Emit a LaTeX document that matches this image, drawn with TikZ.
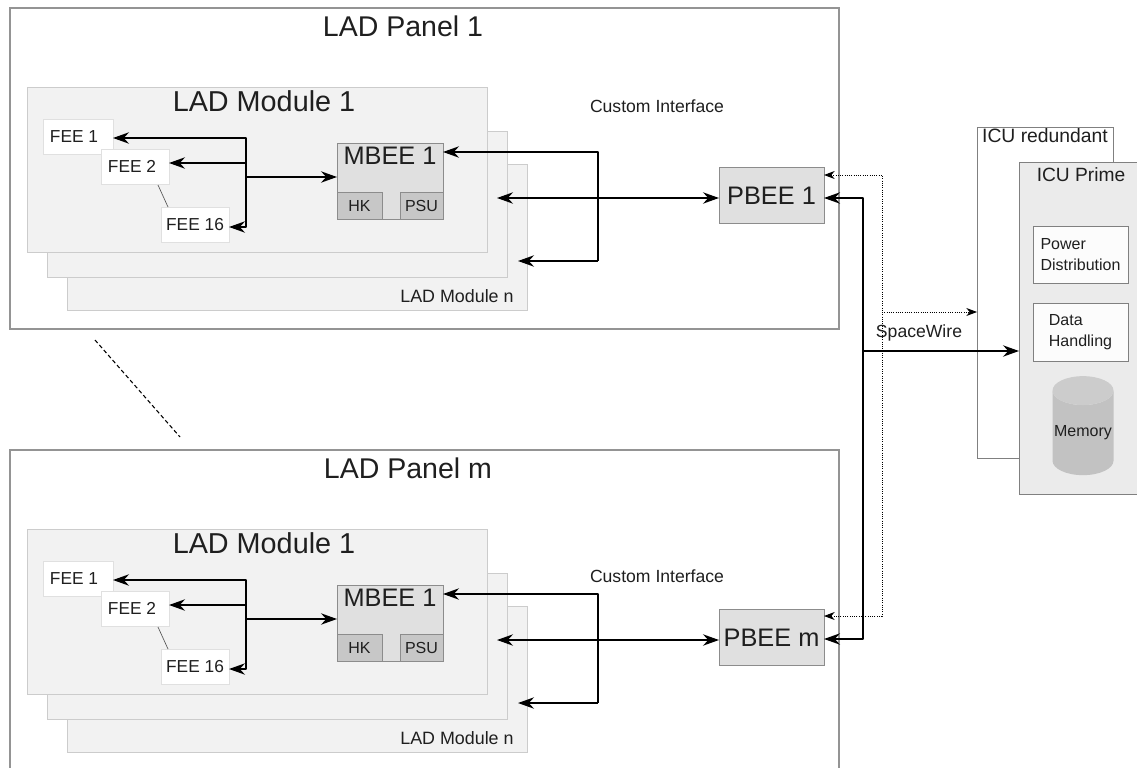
\documentclass[tikz,border=0pt]{standalone}
\usepackage{fontspec}
\setmainfont{Liberation Sans}
\usetikzlibrary{arrows.meta,shapes.geometric}
\newcommand{\fs}[1]{\fontsize{#1}{20}\selectfont}
\tikzset{
  x=0.75pt,y=-0.75pt,
  sized/.style 2 args={minimum width=#1*0.75pt,minimum height=#2*0.75pt,anchor=north west,inner sep=0pt,outer sep=0pt},
  lbl/.style={inner sep=0pt,outer sep=0pt,text=black!88},
  panelbox/.style={draw=black!42,line width=1.5pt,fill=white},
  modulebox/.style={draw=black!20,line width=0.6pt,fill=black!5},
  feebox/.style={draw=black!12,line width=0.6pt,fill=white,font=\fs{13},text=black!88},
  beebox/.style={draw=black!45,line width=0.7pt,fill=black!12},
  subbox/.style={draw=black!45,line width=0.7pt,fill=black!22,font=\fs{12},text=black!88},
  conn/.style={draw=black,line width=1.5pt,line join=round,{Stealth[length=12pt,width=8.5pt,inset=4pt]}-},
  connboth/.style={draw=black,line width=1.5pt,line join=round,{Stealth[length=12pt,width=8.5pt,inset=4pt]}-{Stealth[length=12pt,width=8.5pt,inset=4pt]}},
  dotline/.style={draw=black,line width=0.7pt,densely dotted},
  dotboth/.style={dotline,{Stealth[length=8pt,width=6pt,inset=2.5pt]}-{Stealth[length=8pt,width=6pt,inset=2.5pt]}},
  dotend/.style={dotline,-{Stealth[length=8pt,width=6pt,inset=2.5pt]}},
  thinline/.style={draw=black!65,line width=0.5pt},
  whitebox/.style={draw=black!50,line width=0.7pt,fill=black!1},
}
\newcommand{\ladpanel}[5]{%
\begin{scope}[shift={(0,#1)},name prefix=#2-]
  \node[panelbox,sized={829}{321}] (panel) at (10,8) {};
  \node[lbl,font=\fs{21.4}] (paneltitle) at (#4,26) {LAD Panel #3};
  \node[modulebox,sized={460}{146}] (modn) at (67,164) {};
  \node[modulebox,sized={460}{146}] (mod2) at (47,131) {};
  \node[modulebox,sized={460}{165}] (mod1) at (27,87) {};
  \node[lbl,font=\fs{21.6}] (modtitle) at (264,101) {LAD Module 1};
  \node[lbl,font=\fs{13.4}] (modnlabel) at (457,296) {LAD Module n};
  \node[feebox,sized={70}{35}] (fee1) at (43,119) {FEE 1\kern6pt\relax};
  \node[feebox,sized={68}{35}] (fee2) at (101,149) {FEE 2\kern4.5pt\relax};
  \node[feebox,sized={68}{35}] (fee16) at (161,207) {FEE 16};
  \coordinate (gapA) at (158,185);
  \coordinate (gapB) at (168,207);
  \draw[thinline] (gapA) -- (gapB);
  \node[beebox,sized={106}{76}] (mbee) at (337,143) {};
  \node[lbl,font=\fs{19}] (mbeetitle) at (390,156) {MBEE 1};
  \node[subbox,sized={45}{27}] (hk) at (337,192) {HK};
  \node[subbox,sized={43}{27}] (psu) at (400,192) {PSU};
  \node[beebox,sized={105}{56}] (pbee) at (719,167) {};
  \node[lbl,font=\fs{19}] (pbeetitle) at (771.5,196) {PBEE #3};
  \node[lbl,font=\fs{13.2}] (custom) at (657,#5) {Custom Interface};
  \coordinate (busT) at (246,138);
  \coordinate (busF2) at (246,163);
  \coordinate (busM) at (246,177);
  \coordinate (busB) at (246,227);
  \draw[connboth] (fee1.east |- busT) -- (busT) -- (busB) -- (fee16.east |- busB);
  \draw[conn] (fee2.east |- busF2) -- (busF2);
  \draw[conn] (mbee.west |- busM) -- (busM);
  \coordinate (ciT) at (598,152);
  \coordinate (ciM) at (598,198);
  \coordinate (ciB) at (598,261);
  \coordinate (ciBtip) at (518,261);
  \coordinate (ciMtip) at (497,198);
  \draw[conn] (mbee.east |- ciT) -- (ciT) -- (ciB);
  \draw[conn] (ciBtip) -- (ciB);
  \draw[connboth] (ciMtip) -- (pbee.west |- ciM);
\end{scope}}
\begin{document}
\begin{tikzpicture}
  \clip (0,0) rectangle (1137,767);
  \fill[white] (0,0) rectangle (1137,767);
  \ladpanel{0}{pa}{1}{403}{106}
  \ladpanel{442}{pb}{m}{408}{134}
  \node[whitebox,fill=white,sized={136}{331}] (red) at (977,127) {};
  \node[lbl,font=\fs{14.5}] (redtitle) at (1045,136) {ICU redundant};
  \node[whitebox,fill=black!8,sized={130}{332}] (prime) at (1019,162) {};
  \node[lbl,font=\fs{14.4}] (primetitle) at (1081,175) {ICU Prime};
  \node[whitebox,sized={95}{57},align=left,font=\fontsize{12}{15.75}\selectfont,text=black!88] (power) at (1033,226) {Power\\Distribution};
  \node[whitebox,sized={95}{58},align=left,font=\fontsize{12}{15.75}\selectfont,text=black!88] (data) at (1033,303) {Data\\Handling};
  \node[cylinder,shape border rotate=90,aspect=0.5,draw=none,cylinder uses custom fill,cylinder body fill=black!24,cylinder end fill=black!20,minimum width=61*0.75pt,minimum height=99*0.75pt,inner sep=0pt,anchor=center,font=\fs{12},text=black!88] (memory) at (1083,433) {Memory};
  \coordinate (swT) at (863,198);
  \coordinate (swM) at (863,351);
  \coordinate (swB) at (863,639);
  \coordinate (dotT) at (882,175);
  \coordinate (dotM) at (882,312);
  \coordinate (dotB) at (882,616);
  \draw[connboth] (pa-pbee.east |- swT) -- (swT) -- (swB) -- (pb-pbee.east |- swB);
  \draw[conn] (prime.west |- swM) -- (swM);
  \draw[dotboth] (pa-pbee.east |- dotT) -- (dotT) -- (dotB) -- (pb-pbee.east |- dotB);
  \draw[dotend] (dotM) -- (red.west |- dotM);
  \node[lbl,font=\fs{13.2}] (spacewire) at (919,333) {SpaceWire};
  \coordinate (dashA) at (95,340);
  \coordinate (dashB) at (180,437);
  \draw[black,line width=0.8pt,densely dashed] (dashA) -- (dashB);
\end{tikzpicture}
\end{document}
